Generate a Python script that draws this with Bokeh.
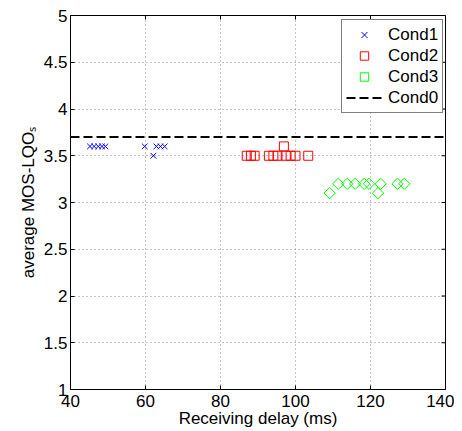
from bokeh.plotting import figure
from bokeh.models import FixedTicker, Range1d, Legend, LegendItem
from bokeh.embed import file_html
from bokeh.resources import INLINE
import math

# ---- data ----
cond1_delay = [45.2, 46.3, 47.4, 48.4, 49.3, 59.8, 62.1, 62.9, 64.0, 65.1]
cond1_mos = [3.6, 3.6, 3.6, 3.6, 3.6, 3.6, 3.5, 3.6, 3.6, 3.6]
cond2_delay = [87.0, 88.1, 89.1, 92.9, 94.1, 95.2, 96.9, 97.4, 98.7, 100.0, 103.4]
cond2_mos = [3.5, 3.5, 3.5, 3.5, 3.5, 3.5, 3.6, 3.5, 3.5, 3.5, 3.5]
cond3_delay = [109.1, 111.4, 113.8, 115.9, 118.3, 119.6, 122.0, 122.7, 127.2, 129.0]
cond3_mos = [3.1, 3.2, 3.2, 3.2, 3.2, 3.2, 3.1, 3.2, 3.2, 3.2]
cond0_mos = 3.7

x_ticks = [40, 60, 80, 100, 120, 140]
y_ticks = [1, 1.5, 2, 2.5, 3, 3.5, 4, 4.5, 5]
y_tick_labels = ["1", "1.5", "2", "2.5", "3", "3.5", "4", "4.5", "5"]
x_label = "Receiving delay (ms)"
y_label = "average MOS-LQOₛ"

FONT = "Liberation Sans"

p = figure(output_backend="svg", toolbar_location=None,
           frame_width=375, frame_height=374,
           min_border_left=70, min_border_top=15, min_border_right=9, min_border_bottom=30,
           x_range=Range1d(x_ticks[0], x_ticks[-1]), y_range=Range1d(y_ticks[0], y_ticks[-1]))
p.background_fill_color = "white"
p.border_fill_color = "white"
p.outline_line_color = "black"
p.outline_line_width = 1

for ax, ticks in ((p.xaxis[0], x_ticks), (p.yaxis[0], y_ticks)):
    ax.ticker = FixedTicker(ticks=ticks)
    ax.major_tick_in = 4
    ax.major_tick_out = 0
    ax.minor_tick_line_color = None
    ax.axis_line_color = "black"
    ax.major_tick_line_color = "black"
    ax.major_label_text_font = FONT
    ax.major_label_text_font_size = "17px"
    ax.major_label_text_color = "black"
    ax.axis_label_text_font = FONT
    ax.axis_label_text_font_size = "17px"
    ax.axis_label_text_font_style = "normal"
    ax.axis_label_text_color = "black"

p.xaxis[0].axis_label = x_label
p.yaxis[0].axis_label = y_label
p.yaxis[0].major_label_overrides = {t: s for t, s in zip(y_ticks, y_tick_labels)}
p.xaxis[0].major_label_standoff = 5
p.yaxis[0].major_label_standoff = 3
p.xaxis[0].axis_label_standoff = -1
p.yaxis[0].axis_label_standoff = 3

p.grid.grid_line_color = "#888888"
p.grid.grid_line_dash = "1 3"
p.grid.grid_line_width = 1
p.xgrid.ticker = FixedTicker(ticks=x_ticks)
p.ygrid.ticker = FixedTicker(ticks=y_ticks)

# inward box ticks on the right and top edges (outer half clipped by the frame)
p.scatter([x_ticks[-1]] * len(y_ticks), y_ticks, marker="dash", size=8,
          line_color="black", line_width=1)
p.scatter(x_ticks, [y_ticks[-1]] * len(x_ticks), marker="dash", size=8, angle=math.pi / 2,
          line_color="black", line_width=1)

r1 = p.scatter(cond1_delay, cond1_mos, marker="x", size=8, line_color="#0000ff", line_width=1)
r2 = p.scatter(cond2_delay, cond2_mos, marker="square", size=9, fill_color=None,
               line_color="#ff0000", line_width=1)
r3 = p.scatter(cond3_delay, cond3_mos, marker="square", size=8, angle=math.pi / 4,
               fill_color=None, line_color="#00ff00", line_width=1)
r0 = p.line([x_ticks[0], x_ticks[-1]], [cond0_mos, cond0_mos], line_color="black",
            line_width=2, line_dash="9 4")

legend = Legend(items=[LegendItem(label="Cond1", renderers=[r1]),
                       LegendItem(label="Cond2", renderers=[r2]),
                       LegendItem(label="Cond3", renderers=[r3]),
                       LegendItem(label="Cond0", renderers=[r0])],
                location=(271, 276))
legend.label_text_font = FONT
legend.label_text_font_size = "17px"
legend.label_text_color = "black"
legend.border_line_color = "black"
legend.border_line_width = 1
legend.background_fill_color = "white"
legend.background_fill_alpha = 1
legend.padding = 4
legend.spacing = 0
legend.margin = 0
legend.label_height = 21
legend.glyph_height = 21
legend.glyph_width = 36
legend.label_standoff = 6
p.add_layout(legend, "center")

open("out.html", "w").write(file_html(p, INLINE))
